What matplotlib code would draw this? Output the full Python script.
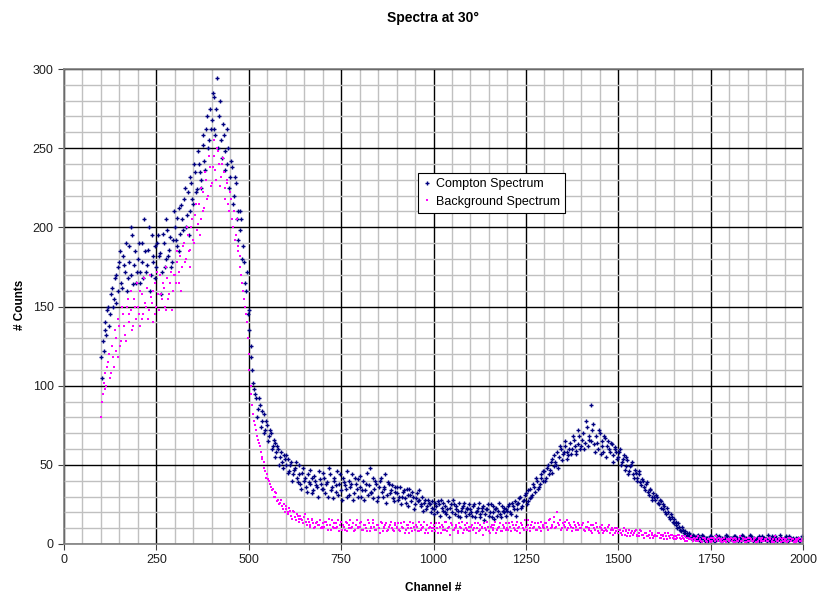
import numpy as np
import matplotlib
matplotlib.use("Agg")
import matplotlib.pyplot as plt
from matplotlib.ticker import MultipleLocator

# two interleaved samplings of the channel axis (every 5 channels each)
channels_a = list(range(100, 2001, 5))
channels_b = list(range(102, 1998, 5))

compton_a = [
    118, 128, 140, 132, 150, 145, 162, 155, 170, 160, 178, 165, 182, 172, 160, 188, 170, 195, 176, 165,
    180, 172, 190, 168, 185, 176, 200, 170, 182, 188, 175, 195, 184, 172, 190, 180, 198, 186, 175, 192,
    200, 188, 212, 196, 205, 218, 200, 222, 210, 228, 215, 235, 224, 240, 230, 252, 242, 262, 250, 275,
    268, 282, 258, 294, 270, 255, 265, 248, 240, 250, 232, 238, 220, 228, 210, 198, 205, 188, 165, 172,
    148, 125, 110, 98, 92, 85, 88, 78, 82, 72, 75, 68, 70, 62, 64, 58, 60, 55, 52, 56,
    50, 54, 46, 52, 44, 48, 42, 50, 38, 45, 40, 36, 44, 38, 42, 34, 40, 36, 46, 38,
    35, 42, 38, 30, 44, 36, 40, 33, 46, 38, 34, 42, 37, 30, 40, 36, 44, 32, 38, 41,
    36, 30, 40, 34, 45, 37, 32, 42, 35, 38, 30, 40, 33, 36, 44, 31, 38, 34, 29, 36,
    32, 28, 36, 30, 34, 26, 31, 35, 27, 30, 25, 32, 28, 24, 30, 26, 22, 28, 25, 23,
    22, 26, 20, 25, 28, 21, 24, 19, 27, 23, 20, 25, 22, 18, 26, 21, 24, 20, 23, 19,
    22, 18, 25, 20, 23, 17, 21, 24, 19, 22, 18, 25, 20, 16, 23, 21, 19, 24, 20, 22,
    21, 25, 19, 24, 27, 22, 26, 30, 24, 28, 32, 27, 35, 30, 38, 33, 40, 36, 44, 40,
    46, 42, 50, 47, 54, 49, 52, 58, 55, 60, 57, 62, 58, 56, 64, 60, 66, 59, 63, 68,
    62, 70, 64, 74, 66, 88, 72, 63, 68, 60, 70, 65, 58, 67, 62, 60, 64, 56, 61, 58,
    55, 60, 52, 56, 49, 53, 46, 50, 44, 47, 42, 44, 39, 41, 36, 38, 33, 35, 30, 32,
    28, 30, 25, 27, 22, 24, 19, 20, 16, 17, 13, 14, 10, 11, 8, 9, 6, 7, 5, 6,
    4, 5, 3, 6, 4, 3, 5, 2, 4, 3, 5, 3, 2, 6, 4, 3, 2, 4, 3, 5,
    3, 4, 2, 5, 3, 2, 4, 6, 3, 2, 4, 3, 5, 2, 3, 4, 2, 3, 5, 4,
    3, 6, 2, 4, 3, 5, 2, 3, 4, 2, 3, 5, 2, 4, 3, 2, 4, 3, 2, 3,
    3,
]

compton_b = [
    105, 122, 135, 148, 138, 158, 150, 168, 152, 175, 185, 162, 176, 190, 168, 178, 200, 164, 185, 172,
    190, 165, 178, 205, 172, 186, 160, 195, 178, 168, 190, 182, 158, 196, 175, 205, 182, 194, 178, 210,
    192, 206, 185, 214, 198, 225, 208, 195, 232, 218, 240, 222, 248, 235, 225, 258, 236, 270, 255, 262,
    285, 262, 275, 250, 280, 244, 258, 236, 262, 225, 242, 215, 232, 205, 192, 210, 180, 178, 160, 145,
    135, 118, 102, 95, 80, 92, 74, 84, 70, 78, 65, 72, 60, 66, 55, 62, 50, 58, 48, 54,
    56, 45, 50, 40, 47, 52, 39, 44, 35, 48, 42, 33, 39, 47, 32, 43, 37, 30, 41, 35,
    45, 32, 39, 48, 34, 29, 42, 37, 31, 44, 28, 39, 35, 46, 31, 38, 28, 42, 35, 30,
    43, 34, 28, 38, 31, 48, 33, 29, 40, 27, 36, 42, 30, 35, 26, 39, 32, 37, 27, 33,
    36, 30, 25, 33, 29, 35, 24, 31, 33, 22, 29, 27, 34, 25, 21, 28, 24, 26, 20, 27,
    19, 24, 27, 18, 23, 26, 20, 22, 17, 25, 28, 19, 24, 21, 17, 23, 26, 18, 22, 25,
    20, 24, 17, 21, 26, 19, 23, 15, 22, 25, 20, 17, 24, 22, 18, 26, 17, 21, 23, 18,
    24, 20, 26, 22, 18, 25, 29, 23, 27, 31, 25, 34, 29, 31, 36, 42, 35, 38, 42, 46,
    40, 48, 44, 52, 45, 56, 50, 48, 62, 53, 58, 65, 54, 60, 57, 68, 62, 57, 72, 60,
    66, 60, 78, 62, 68, 65, 76, 58, 64, 72, 57, 62, 68, 55, 65, 58, 63, 52, 60, 54,
    58, 50, 54, 47, 55, 44, 49, 52, 42, 45, 40, 46, 37, 40, 34, 39, 31, 34, 28, 30,
    31, 26, 28, 23, 25, 20, 23, 17, 19, 14, 16, 12, 13, 9, 11, 7, 8, 5, 7, 4,
    6, 3, 5, 4, 2, 6, 3, 4, 2, 5, 3, 4, 2, 3, 5, 2, 4, 3, 6, 2,
    4, 3, 5, 2, 4, 3, 2, 5, 3, 4, 2, 6, 3, 4, 2, 3, 5, 2, 4, 3,
    2, 4, 3, 5, 2, 4, 3, 6, 2, 3, 4, 2, 5, 3, 4, 2, 3, 4, 2, 5,
]

background_a = [
    80, 95, 108, 100, 115, 105, 125, 112, 130, 118, 138, 128, 145, 132, 150, 140, 148, 135, 155, 142,
    150, 138, 158, 145, 152, 162, 148, 156, 140, 165, 150, 158, 170, 155, 162, 148, 168, 158, 172, 160,
    170, 178, 165, 182, 175, 190, 180, 195, 186, 200, 192, 208, 198, 215, 205, 222, 212, 230, 220, 238,
    228, 245, 236, 250, 240, 232, 244, 225, 230, 215, 222, 205, 210, 195, 188, 182, 170, 160, 150, 140,
    120, 100, 88, 78, 72, 66, 62, 55, 52, 46, 44, 40, 36, 35, 30, 32, 28, 26, 24, 25,
    22, 20, 23, 18, 21, 17, 19, 16, 18, 15, 17, 14, 16, 12, 15, 13, 11, 14, 12, 10,
    13, 11, 14, 9, 12, 15, 10, 13, 11, 8, 14, 12, 9, 13, 10, 15, 11, 8, 12, 10,
    11, 14, 9, 12, 8, 13, 10, 15, 11, 9, 12, 7, 13, 10, 12, 8, 11, 14, 9, 12,
    10, 13, 8, 11, 14, 9, 12, 7, 10, 13, 9, 11, 8, 12, 10, 14, 9, 7, 11, 10,
    12, 8, 10, 13, 7, 11, 9, 14, 10, 6, 12, 9, 11, 8, 13, 10, 7, 12, 9, 11,
    8, 12, 10, 7, 13, 9, 11, 6, 10, 14, 8, 11, 9, 12, 7, 10, 13, 8, 11, 9,
    10, 13, 8, 12, 9, 14, 10, 7, 12, 9, 11, 15, 8, 12, 10, 13, 9, 11, 8, 12,
    10, 13, 9, 16, 11, 14, 10, 20, 12, 9, 13, 11, 15, 10, 12, 8, 14, 11, 9, 12,
    10, 13, 8, 11, 9, 12, 7, 10, 13, 8, 11, 9, 7, 10, 8, 12, 9, 6, 10, 8,
    7, 9, 6, 10, 8, 5, 9, 7, 6, 8, 5, 7, 9, 6, 4, 7, 5, 8, 6, 4,
    6, 5, 7, 4, 6, 3, 5, 7, 4, 6, 3, 5, 4, 6, 3, 4, 5, 2, 4, 3,
    3, 4, 2, 5, 3, 2, 4, 3, 1, 3, 4, 2, 3, 5, 2, 3, 1, 4, 2, 3,
    2, 4, 3, 1, 3, 2, 5, 2, 3, 1, 4, 2, 3, 2, 4, 1, 3, 2, 4, 2,
    3, 2, 4, 1, 3, 5, 2, 3, 1, 4, 2, 3, 2, 4, 3, 1, 3, 2, 4, 2,
    2,
]

background_b = [
    90, 102, 98, 112, 120, 108, 118, 135, 122, 142, 125, 150, 138, 128, 155, 145, 160, 138, 150, 165,
    145, 160, 142, 168, 150, 142, 170, 152, 160, 145, 172, 148, 158, 165, 150, 175, 155, 165, 148, 170,
    165, 185, 172, 160, 188, 178, 200, 185, 175, 205, 190, 215, 202, 195, 225, 210, 235, 218, 245, 226,
    238, 255, 230, 248, 226, 240, 235, 218, 228, 210, 218, 200, 192, 205, 185, 175, 165, 155, 145, 130,
    110, 95, 82, 75, 68, 64, 58, 54, 48, 42, 41, 38, 34, 30, 33, 27, 25, 28, 22, 20,
    24, 19, 21, 16, 20, 15, 18, 14, 16, 13, 19, 12, 14, 11, 16, 10, 13, 12, 15, 11,
    10, 14, 12, 16, 9, 11, 13, 10, 15, 12, 9, 11, 14, 8, 12, 10, 13, 9, 15, 11,
    13, 9, 12, 10, 15, 8, 11, 13, 9, 12, 10, 14, 8, 11, 13, 9, 12, 10, 8, 13,
    11, 9, 13, 10, 7, 12, 10, 14, 8, 11, 12, 8, 14, 9, 11, 7, 12, 10, 13, 8,
    10, 13, 7, 11, 12, 9, 14, 8, 11, 13, 9, 10, 12, 7, 11, 14, 9, 10, 13, 8,
    11, 9, 13, 10, 8, 12, 10, 13, 9, 11, 7, 12, 10, 14, 9, 11, 8, 12, 10, 13,
    9, 11, 14, 10, 12, 8, 11, 13, 10, 15, 9, 12, 10, 14, 11, 9, 13, 10, 14, 11,
    13, 11, 15, 10, 12, 17, 11, 13, 15, 10, 12, 14, 9, 13, 11, 10, 12, 9, 13, 10,
    12, 9, 11, 14, 10, 8, 12, 9, 11, 7, 10, 12, 8, 9, 11, 7, 10, 9, 7, 10,
    9, 7, 8, 6, 9, 7, 5, 8, 7, 9, 6, 5, 8, 6, 7, 5, 6, 4, 7, 5,
    5, 7, 4, 6, 5, 7, 3, 5, 6, 4, 5, 3, 6, 4, 5, 3, 2, 4, 3, 5,
    2, 3, 4, 2, 3, 1, 4, 2, 3, 2, 1, 4, 2, 3, 4, 2, 3, 2, 1, 3,
    3, 2, 1, 4, 2, 3, 2, 4, 1, 3, 2, 4, 2, 3, 1, 2, 4, 3, 2, 3,
    2, 4, 3, 2, 1, 3, 2, 4, 3, 2, 3, 1, 4, 2, 3, 2, 1, 3, 2, 3,
]

plt.rcParams['font.family'] = ['Liberation Sans', 'DejaVu Sans']

fig = plt.figure(figsize=(8.21, 5.99), dpi=100)
ax = fig.add_axes([64/821, 1 - 544/599, (803-64)/821, (544-69)/599])

ax.plot(channels_a + channels_b, compton_a + compton_b, linestyle='none',
        marker='+', markersize=3.5, markeredgewidth=1.0, color='#000080',
        label='Compton Spectrum')
pts, = ax.plot(channels_a + channels_b, background_a + background_b, linestyle='none',
               marker='s', markersize=2.1, markeredgewidth=0, color='#FF00FF',
               label='Background Spectrum')
pts.set_snap(False)

ax.set_xlim(0, 2000)
ax.set_ylim(0, 300)
ax.xaxis.set_major_locator(MultipleLocator(250))
ax.xaxis.set_minor_locator(MultipleLocator(50))
ax.yaxis.set_major_locator(MultipleLocator(50))
ax.yaxis.set_minor_locator(MultipleLocator(10))
ax.grid(which='minor', color='#c0c0c0', linewidth=1.0)
ax.grid(which='major', color='black', linewidth=1.0)
ax.set_axisbelow(True)
for s in ax.spines.values():
    s.set_color('#808080')
    s.set_linewidth(1.2)
ax.tick_params(which='major', direction='out', length=4, color='#404040',
               labelsize=9, labelcolor='#202020')
ax.tick_params(which='minor', length=0)

fig.text(433/821, 1 - 18/599, 'Spectra at 30°', ha='center', va='center',
         fontsize=10, fontweight='bold')
fig.text(433/821, 1 - 588/599, 'Channel #', ha='center', va='center',
         fontsize=8.5, fontweight='bold')
fig.text(20/821, 1 - 305/599, '# Counts', ha='center', va='center',
         rotation=90, fontsize=8.5, fontweight='bold')

leg = ax.legend(loc='upper left', bbox_to_anchor=((418-64)/739, (544-173)/475),
                fontsize=9, frameon=True, fancybox=False, borderpad=0.4,
                handlelength=0.6, handletextpad=0.4, labelspacing=0.45,
                borderaxespad=0, markerscale=0.8)
leg.get_frame().set_edgecolor('black')
leg.get_frame().set_linewidth(0.8)
leg.get_frame().set_alpha(1)

fig.savefig('out.png', dpi=100)
